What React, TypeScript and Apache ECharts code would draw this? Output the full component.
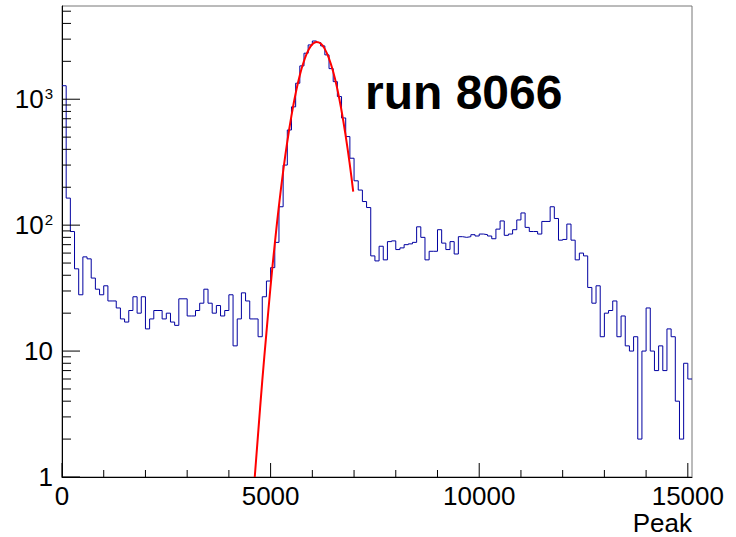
import React, { useEffect, useRef } from "react";
import * as echarts from "echarts";

// Histogram of "Peak" (bins of 100 starting at 0)
const binWidth = 100;
const peakCounts = [
  1280, 164, 89, 45, 28, 56, 54, 38, 31, 28,
  33, 25, 25, 22, 18, 17, 21, 27, 20, 27,
  15, 18, 21, 21, 18, 20, 17, 16, 26, 26,
  19, 19, 21, 24, 31, 24, 20, 23, 19, 21,
  28, 11, 18, 29, 25, 18, 18, 13, 27, 36,
  46, 73, 140, 300, 570, 870, 1340, 1840, 2320, 2700,
  2900, 2820, 2650, 2250, 1750, 1380, 1050, 710, 505, 340,
  225, 190, 154, 138, 57, 52, 68, 53, 74, 75,
  64, 66, 70, 71, 73, 97, 80, 53, 62, 62,
  92, 72, 64, 74, 59, 81, 80, 81, 84, 82,
  85, 84, 82, 78, 93, 108, 83, 85, 92, 110,
  125, 96, 89, 89, 85, 107, 107, 140, 113, 76,
  77, 102, 76, 53, 60, 57, 32, 24, 33, 13,
  20, 21, 25, 13, 19, 11, 10, 13, 2, 10,
  22, 10, 7, 11, 7, 15, 13, 4, 2, 8,
  6,
];

// Gaussian fit over the photopeak: [Peak, counts]
const fitCurve: [number, number][] = [
  [4620, 1], [4700, 2.2], [4800, 5.8], [4900, 14], [5000, 33],
  [5100, 71], [5200, 143], [5300, 266], [5400, 460], [5500, 740],
  [5600, 1110], [5700, 1550], [5800, 2010], [5900, 2430], [6000, 2730],
  [6100, 2850], [6200, 2770], [6300, 2500], [6400, 2100], [6500, 1650],
  [6600, 1200], [6700, 810], [6800, 510], [6900, 300], [6980, 185],
];

const xMajorTicks = [0, 5000, 10000, 15000];
const xMinorTicks = [1000, 2000, 3000, 4000, 6000, 7000, 8000, 9000, 11000, 12000, 13000, 14000];
const yMajorTicks = [1, 10, 100, 1000];
const yMinorTicks = [
  2, 3, 4, 5, 6, 7, 8, 9,
  20, 30, 40, 50, 60, 70, 80, 90,
  200, 300, 400, 500, 600, 700, 800, 900,
  2000, 3000, 4000, 5000,
];

const runLabel = "run 8066";
const xTitle = "Peak";

const FONT = "Liberation Sans, Arial, Helvetica, sans-serif";

export default function App() {
  const ref = useRef<HTMLDivElement>(null);

  useEffect(() => {
    if (!ref.current) return;
    const chart = echarts.init(ref.current, undefined, { renderer: "svg" });

    const histData: [number, number][] = peakCounts.map((c, i) => [i * binWidth, c]);
    histData.push([peakCounts.length * binWidth, peakCounts[peakCounts.length - 1]]);

    // [x, y, direction (0 = x axis, 1 = y axis), length in px]
    const tickData: number[][] = [
      ...xMajorTicks.map((v) => [v, 1, 0, 14]),
      ...xMinorTicks.map((v) => [v, 1, 0, 7]),
      ...yMajorTicks.map((v) => [0, v, 1, 18]),
      ...yMinorTicks.map((v) => [0, v, 1, 9]),
    ];

    chart.setOption({
      animation: false,
      backgroundColor: "#ffffff",
      grid: {
        left: 62,
        right: 44,
        top: 6,
        bottom: 60,
        show: true,
        borderColor: "#777777",
        borderWidth: 1,
        backgroundColor: "transparent",
        containLabel: false,
        outerBoundsMode: "none",
      },
      xAxis: {
        type: "value",
        min: 0,
        max: 15100,
        interval: 5000,
        axisLine: { show: true, lineStyle: { color: "#000", width: 1 } },
        axisTick: { show: false },
        splitLine: { show: false },
        axisLabel: {
          color: "#000",
          fontSize: 26,
          lineHeight: 22,
          fontFamily: FONT,
          margin: 8,
          formatter: (v: number) => (v % 5000 === 0 ? String(v) : ""),
        },
      },
      yAxis: {
        type: "log",
        logBase: 10,
        min: 1,
        max: 5500,
        axisLine: { show: true, lineStyle: { color: "#000", width: 1 } },
        axisTick: { show: false },
        minorTick: { show: false },
        splitLine: { show: false },
        axisLabel: {
          color: "#000",
          fontSize: 26,
          fontFamily: FONT,
          margin: 9,
          formatter: (v: number) => {
            const e = Math.log10(v);
            const r = Math.round(e);
            if (Math.abs(e - r) > 1e-6) return "";
            if (r === 0) return "1";
            if (r === 1) return "10";
            return "{b|10}{s|" + r + "}";
          },
          rich: {
            b: { fontSize: 26, fontFamily: FONT, color: "#000" },
            s: { fontSize: 15, fontFamily: FONT, color: "#000", verticalAlign: "top", padding: [0, 0, 6, 1] },
          },
        },
      },
      series: [
        {
          type: "line",
          data: histData,
          step: "end",
          showSymbol: false,
          symbol: "none",
          lineStyle: { color: "#0000a0", width: 1 },
          z: 3,
        },
        {
          type: "line",
          data: fitCurve,
          smooth: true,
          showSymbol: false,
          symbol: "none",
          lineStyle: { color: "#ff0000", width: 2 },
          z: 4,
        },
        {
          type: "custom",
          data: tickData,
          silent: true,
          z: 5,
          renderItem: (params: any, api: any) => {
            const p = api.coord([api.value(0), api.value(1)]);
            const dir = api.value(2);
            const len = api.value(3);
            const shape =
              dir === 0
                ? { x1: p[0], y1: p[1], x2: p[0], y2: p[1] - len }
                : { x1: p[0], y1: p[1], x2: p[0] + len, y2: p[1] };
            return { type: "line", shape, style: { stroke: "#000", lineWidth: 1 } };
          },
        },
      ],
      graphic: [
        {
          type: "text",
          left: 365,
          top: 68,
          style: {
            text: runLabel,
            font: "bold 48px " + FONT,
            fill: "#000",
          },
        },
        {
          type: "text",
          right: 44,
          top: 510,
          style: {
            text: xTitle,
            font: "26px " + FONT,
            lineHeight: 24,
            fill: "#000",
            align: "right",
          },
        },
      ],
    });

    return () => chart.dispose();
  }, []);

  return (
    <div
      ref={ref}
      style={{ position: "absolute", left: 0, top: 0, width: 736, height: 537 }}
    />
  );
}
